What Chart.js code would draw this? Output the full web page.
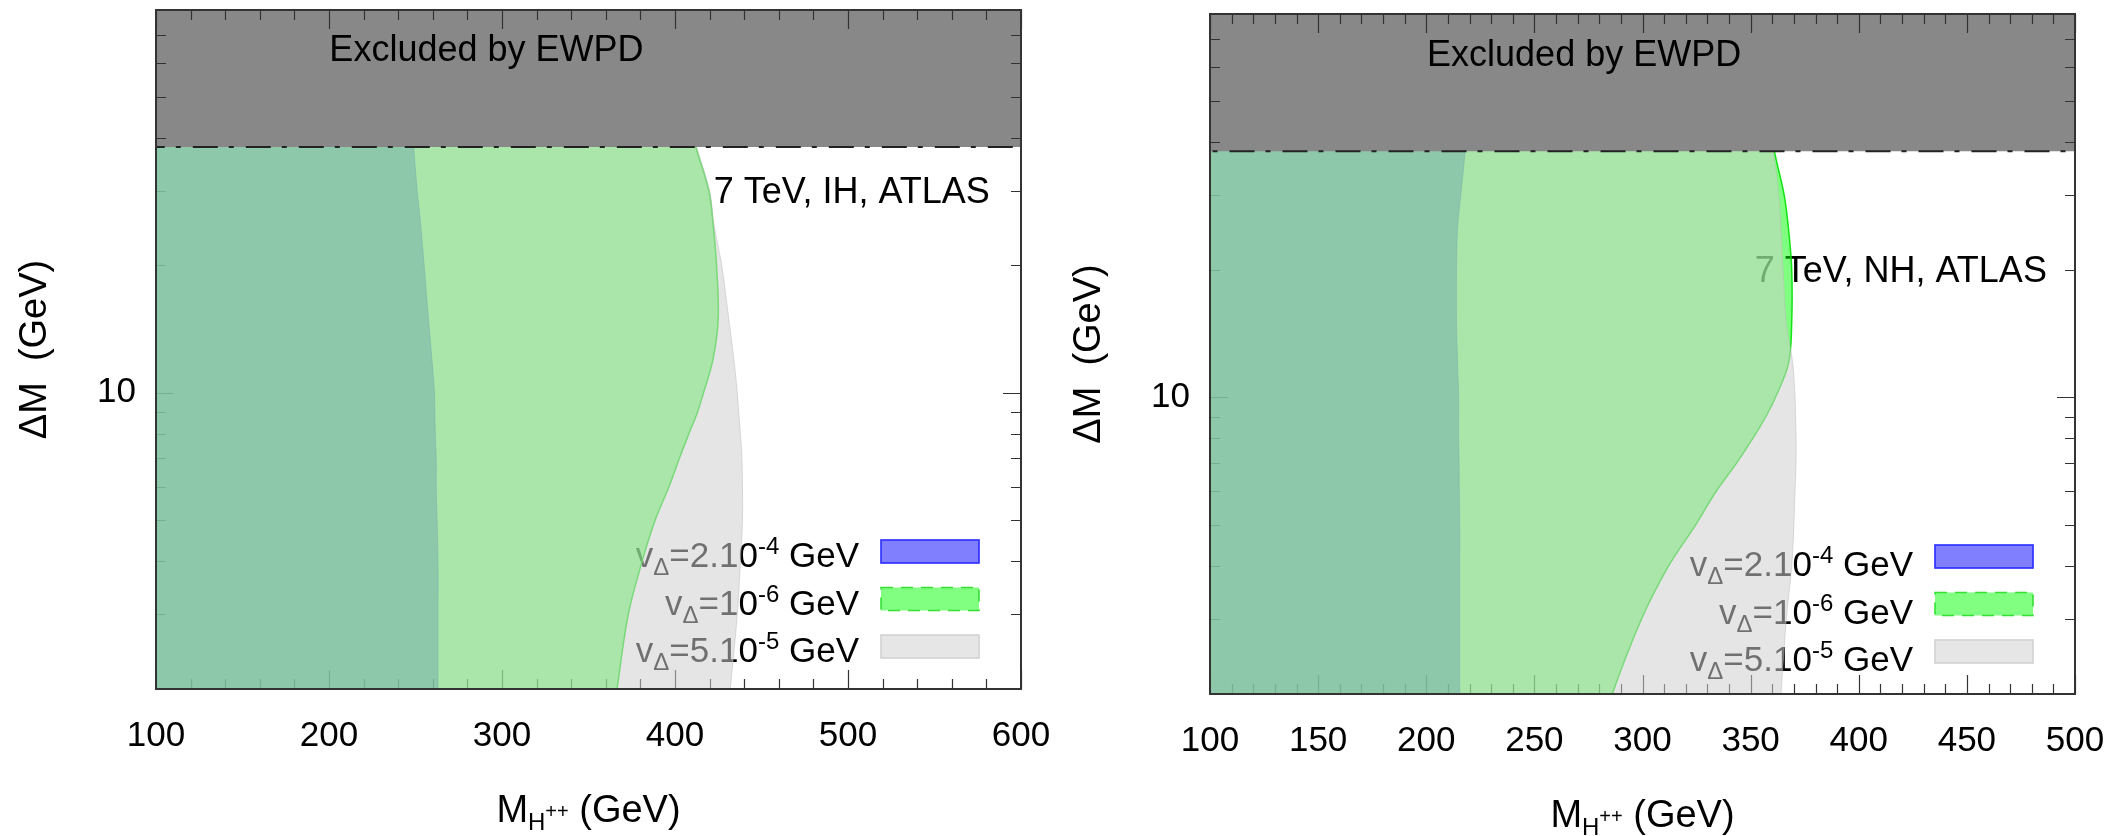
<!DOCTYPE html>
<html>
<head>
<meta charset="utf-8">
<script src="https://cdn.jsdelivr.net/npm/chart.js@4.4.0/dist/chart.umd.min.js"></script>
<style>
html, body { margin: 0; padding: 0; background: #fff; }
#wrap { position: relative; width: 2114px; height: 836px; }
.panel { position: absolute; top: 0; width: 1057px; height: 836px; }
</style>
</head>
<body>
<div id="wrap">
  <div class="panel" style="left:0"><canvas id="ih" width="1057" height="836"></canvas></div>
  <div class="panel" style="left:1057px"><canvas id="nh" width="1057" height="836"></canvas></div>
</div>
<script>
var dmLevels = [1.8, 2, 3, 4, 5, 6, 7, 8, 9, 10, 12, 15, 20, 25, 30, 38, 45];

// right edge (M_H++ in GeV) of each excluded region, one value per dmLevel
// 7 TeV, IH
var ihBlue  = [263, 263, 263, 263, 262.5, 262, 262, 261.5, 261.2, 261, 259.5, 257.5, 255, 253, 251, 249, 248];
var ihGreen = [365, 366.5, 373, 381, 388.5, 396.5, 402.5, 408, 413, 416.5, 422, 425, 424, 422, 419.5, 412, 407];
var ihGray  = [431, 432, 436, 437.8, 439, 439, 438.7, 437.8, 436.8, 436, 434, 431, 427, 422.5, 420, 412.5, 408];
// 7 TeV, NH
var nhBlue  = [215.5, 215.5, 215.5, 215.5, 215.5, 215.3, 215.2, 215, 215, 215, 214.5, 214, 214, 214.5, 216, 218, 219];
var nhGreen = [284, 286, 299.5, 312, 324.5, 334, 343.5, 351, 357, 361.5, 367.5, 369, 369, 367.5, 365.5, 361, 359];
var nhGray  = [363, 364, 366.5, 369, 370, 370.5, 371, 371, 370.8, 370.5, 369.5, 366.5, 365, 364, 363, 360.5, 358];

var ewpdLimit = 38;          // Delta M above this is excluded by EWPD
var ihXTicks = [100, 200, 300, 400, 500, 600];
var nhXTicks = [100, 150, 200, 250, 300, 350, 400, 450, 500];
var yRange = [2, 80];
var yTicks = [10];
var yMinorTicks = [2, 3, 4, 5, 6, 7, 8, 9, 20, 30, 40, 50, 60, 70, 80];

// v_Delta = ... : [base, subscript, middle, superscript, tail]
var legendLabels = [
  ['v', 'Δ', '=2.10', '-4', ' GeV'],
  ['v', 'Δ', '=10', '-6', ' GeV'],
  ['v', 'Δ', '=5.10', '-5', ' GeV']
];

var FONT = '"Liberation Sans", Arial, Helvetica, sans-serif';

function region(edge, xMin) {
  var pts = dmLevels.map(function (dm, i) { return { x: edge[i], y: dm }; });
  pts.push({ x: xMin - 40, y: dmLevels[dmLevels.length - 1] });
  pts.push({ x: xMin - 40, y: dmLevels[0] });
  return pts;
}

function noPad(s) {
  s.paddingLeft = s.paddingRight = s.paddingTop = s.paddingBottom = 0;
}

function drawTicks(chart, p) {
  var ctx = chart.ctx, a = chart.chartArea, xs = chart.scales.x, ys = chart.scales.y;
  var xt = p.xTicks, last = xt[xt.length - 1];
  ctx.beginPath();
  for (var v = xt[0]; v <= last; v += p.xMinorStep) {
    var len = xt.indexOf(v) >= 0 ? 19 : 10;
    var px = Math.round(xs.getPixelForValue(v)) + 0.5;
    ctx.moveTo(px, a.bottom); ctx.lineTo(px, a.bottom - len);
    ctx.moveTo(px, a.top); ctx.lineTo(px, a.top + len);
  }
  yTicks.concat(yMinorTicks).forEach(function (v) {
    var len = yTicks.indexOf(v) >= 0 ? 18 : 10;
    var py = Math.round(ys.getPixelForValue(v)) + 0.5;
    ctx.moveTo(a.left, py); ctx.lineTo(a.left + len, py);
    ctx.moveTo(a.right, py); ctx.lineTo(a.right - len, py);
  });
  ctx.strokeStyle = '#333';
  ctx.lineWidth = 1.2;
  ctx.stroke();
}

function legendRow(ctx, parts, xEnd, base) {
  var big = '35px ' + FONT, small = '24px ' + FONT;
  var fonts = [big, small, big, small, big];
  var shifts = [0, 8, 0, -13, 0];
  var widths = parts.map(function (t, i) { ctx.font = fonts[i]; return ctx.measureText(t).width; });
  var x = xEnd - widths.reduce(function (s, w) { return s + w; }, 0);
  ctx.textAlign = 'left';
  ctx.textBaseline = 'alphabetic';
  parts.forEach(function (t, i) {
    ctx.font = fonts[i];
    ctx.fillText(t, x, base + shifts[i]);
    x += widths[i];
  });
}

var swatches = [
  { fill: '#8080ff', stroke: '#2a2aff', dash: [] },
  { fill: '#80ff80', stroke: '#33e033', dash: [12, 8] },
  { fill: '#e6e6e6', stroke: '#d2d2d2', dash: [] }
];

var decor = {
  id: 'decor',
  beforeDatasetsDraw: function (chart) {
    var p = chart.options.plugins.decor, ctx = chart.ctx, a = chart.chartArea;
    var xs = chart.scales.x, ys = chart.scales.y;
    ctx.save();
    drawTicks(chart, p);
    // texts sit below the translucent regions, as in the original
    ctx.fillStyle = '#000';
    ctx.font = '36px ' + FONT;
    ctx.textAlign = 'right';
    ctx.textBaseline = 'alphabetic';
    ctx.fillText(p.tag, xs.getPixelForValue(p.tagAt[0]), ys.getPixelForValue(p.tagAt[1]));
    var xEnd = a.right - 42 - 98 - 22;
    legendLabels.forEach(function (parts, i) {
      var top = a.bottom - 149 + i * 47.5;
      legendRow(ctx, parts, xEnd, top + 23 + p.legendDrop);
    });
    ctx.restore();
  },
  afterDatasetsDraw: function (chart) {
    var p = chart.options.plugins.decor, ctx = chart.ctx, a = chart.chartArea;
    var xs = chart.scales.x, ys = chart.scales.y;
    ctx.save();
    // ticks again inside the grey EWPD band
    ctx.save();
    ctx.beginPath();
    ctx.rect(a.left, a.top, a.right - a.left, ys.getPixelForValue(ewpdLimit) - a.top - 2);
    ctx.clip();
    drawTicks(chart, p);
    ctx.restore();

    ctx.fillStyle = '#000';
    ctx.font = '36px ' + FONT;
    ctx.textAlign = 'center';
    ctx.textBaseline = 'alphabetic';
    ctx.fillText('Excluded by EWPD', xs.getPixelForValue(p.ewpdAt[0]), ys.getPixelForValue(p.ewpdAt[1]));

    // legend swatches
    swatches.forEach(function (s, i) {
      var x = a.right - 42 - 98, y = a.bottom - 149 + i * 47.5;
      ctx.fillStyle = s.fill;
      ctx.fillRect(x, y, 98, 23);
      ctx.setLineDash(s.dash);
      ctx.strokeStyle = s.stroke;
      ctx.lineWidth = 1.6;
      ctx.strokeRect(x, y, 98, 23);
    });
    ctx.setLineDash([]);

    // frame
    ctx.strokeStyle = '#333';
    ctx.lineWidth = 2;
    ctx.strokeRect(a.left, a.top, a.right - a.left, a.bottom - a.top);

    // axis titles
    ctx.fillStyle = '#000';
    ctx.textAlign = 'left';
    var base = a.bottom + 133;
    var parts = [['M', 38, 0], ['H', 24, 8], ['++', 20, -4], [' (GeV)', 38, 0]];
    var total = 0;
    parts.forEach(function (q) { ctx.font = q[1] + 'px ' + FONT; total += ctx.measureText(q[0]).width; });
    var x = (a.left + a.right) / 2 - total / 2;
    parts.forEach(function (q) {
      ctx.font = q[1] + 'px ' + FONT;
      ctx.fillText(q[0], x, base + q[2]);
      x += ctx.measureText(q[0]).width;
    });
    ctx.translate(a.left - 120, (a.top + a.bottom) / 2);
    ctx.rotate(-Math.PI / 2);
    ctx.font = '38px ' + FONT;
    ctx.textAlign = 'center';
    ctx.textBaseline = 'middle';
    ctx.fillText('ΔM  (GeV)', 0, 0);
    ctx.restore();
  }
};

function makePanel(id, p) {
  var xMin = p.xTicks[0], xMax = p.xTicks[p.xTicks.length - 1];
  var datasets = [
    { data: region(p.blue, xMin), backgroundColor: 'rgba(0,0,255,0.5)', borderColor: 'rgba(0,0,255,0.45)',
      borderWidth: 1, fill: 'shape', tension: 0.35, order: 5 },
    { data: region(p.green, xMin), backgroundColor: 'rgba(0,255,0,0.5)', borderColor: 'rgba(0,225,0,0.9)',
      borderWidth: 1.5, fill: 'shape', tension: 0.35, order: 4 },
    { data: region(p.gray, xMin), backgroundColor: 'rgba(207,207,207,0.54)', borderColor: 'rgba(185,185,185,0.5)',
      borderWidth: 1, fill: 'shape', tension: 0.35, order: 3 },
    { data: [{ x: xMin - 40, y: ewpdLimit }, { x: xMax + 40, y: ewpdLimit }, { x: xMax + 40, y: 200 }, { x: xMin - 40, y: 200 }],
      backgroundColor: '#888888', borderWidth: 0, fill: 'shape', tension: 0, order: 2 },
    { data: [{ x: xMin - 40, y: ewpdLimit }, { x: xMax + 40, y: ewpdLimit }],
      borderColor: '#222', borderWidth: 2, borderDash: [25, 11, 5, 12], fill: false, tension: 0, order: 1 }
  ];
  datasets.forEach(function (d) { d.showLine = true; d.pointRadius = 0; });

  return new Chart(document.getElementById(id), {
    type: 'scatter',
    data: { datasets: datasets },
    options: {
      responsive: false,
      devicePixelRatio: 1,
      animation: false,
      events: [],
      layout: { autoPadding: false, padding: { left: 0, right: p.padRight, top: p.padTop, bottom: 0 } },
      plugins: {
        legend: { display: false },
        tooltip: { enabled: false },
        decor: p
      },
      scales: {
        x: {
          type: 'linear', min: xMin, max: xMax,
          grid: { display: false, drawTicks: false },
          border: { display: false },
          afterBuildTicks: function (s) { s.ticks = p.xTicks.map(function (v) { return { value: v }; }); },
          afterFit: function (s) { s.height = p.xHeight; noPad(s); },
          ticks: { font: { family: FONT, size: 35 }, color: '#000', padding: 26, maxRotation: 0, autoSkip: false }
        },
        y: {
          type: 'logarithmic', min: yRange[0], max: yRange[1],
          grid: { display: false, drawTicks: false },
          border: { display: false },
          afterBuildTicks: function (s) { s.ticks = yTicks.map(function (v) { return { value: v }; }); },
          afterFit: function (s) { s.width = p.yWidth; noPad(s); },
          ticks: { font: { family: FONT, size: 35 }, color: '#000', padding: 20,
                   callback: function (v) { return String(v); } }
        }
      }
    },
    plugins: [decor]
  });
}

makePanel('ih', {
  blue: ihBlue, green: ihGreen, gray: ihGray,
  xTicks: ihXTicks, xMinorStep: 20,
  tag: '7 TeV, IH, ATLAS', tagAt: [582, 28], ewpdAt: [291, 60.5],
  yWidth: 156, xHeight: 147, padTop: 10, padRight: 36, legendDrop: 4
});
makePanel('nh', {
  blue: nhBlue, green: nhGreen, gray: nhGray,
  xTicks: nhXTicks, xMinorStep: 10,
  tag: '7 TeV, NH, ATLAS', tagAt: [487, 18.65], ewpdAt: [273, 60.5],
  yWidth: 153, xHeight: 142, padTop: 14, padRight: 39, legendDrop: 8
});
</script>
</body>
</html>
